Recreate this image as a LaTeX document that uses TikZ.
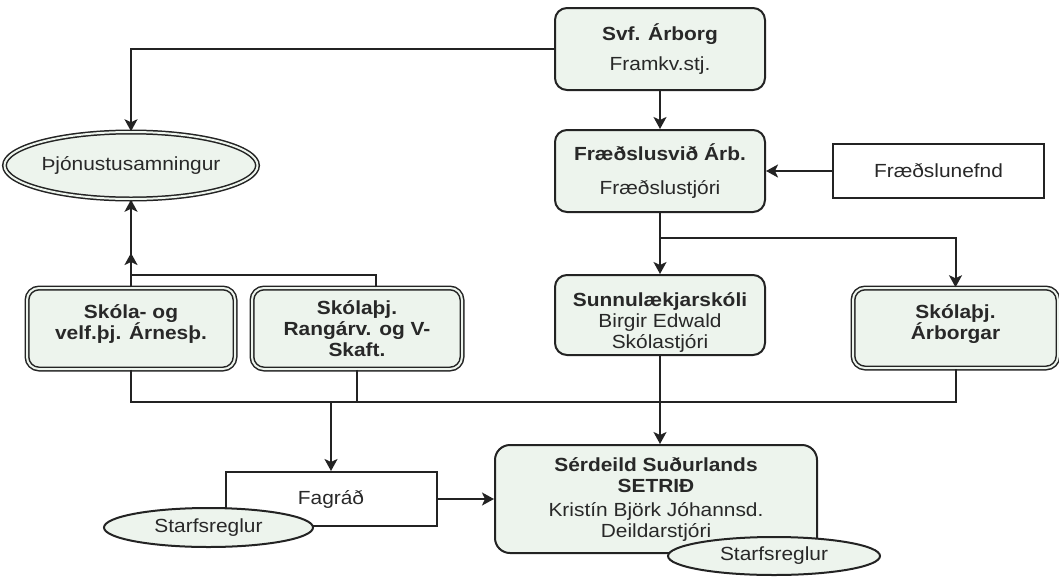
\documentclass[tikz,border=0pt]{standalone}
\usepackage{fontspec}
\setmainfont{Liberation Sans}[FakeStretch=1.1]
\usepackage{xcolor}
\usepackage{tikz}
\usetikzlibrary{arrows.meta,shapes.geometric}
\definecolor{orgfill}{RGB}{237,244,237}
\definecolor{orgline}{RGB}{35,35,35}
\definecolor{orgtext}{RGB}{40,40,40}

\begin{document}
\begin{tikzpicture}[x=1pt, y=-1pt,
    font=\fontsize{19}{21}\selectfont, text=orgtext,
    box/.style={draw=orgline, fill=orgfill, rounded corners=12pt, line width=2pt,
      align=center, inner sep=2pt, minimum width=210pt, minimum height=82pt},
    dbox/.style={box, line width=1.5pt, double=orgfill, double distance=2pt},
    plainbox/.style={draw=orgline, fill=white, line width=2pt, align=center,
      minimum width=211pt, minimum height=54pt},
    oval/.style={ellipse, draw=orgline, fill=orgfill, line width=2pt, inner sep=0pt},
    arrow/.style={-{Stealth[length=12pt, width=13pt, inset=3pt]}, draw=orgline, line width=2pt}
  ]
    \useasboundingbox (0,0) rectangle (1059,576);
    \node[box] (svf) at (660,49) {\textbf{Svf. Árborg}\\[9pt]Framkv.stj.};
    \node[box] (fraedsla) at (660,171) {\textbf{Fræðslusvið Árb.}\\[13pt]Fræðslustjóri};
    \node[plainbox] (nefnd) at (938.5,171) {Fræðslunefnd};
    \node[oval, double=orgfill, double distance=2pt, line width=1.5pt,
      minimum width=244pt, minimum height=67pt] (thjon) at (131,165.5) {Þjónustusamningur};
    \node[dbox, minimum width=208pt, minimum height=81pt] (skola) at (131,328.5)
      {\textbf{Skóla- og}\\\textbf{velf.þj. Árnesþ.}\\[-9pt]};
    \node[dbox, minimum height=81pt] (rang) at (357,328.5)
      {\textbf{Skólaþj.}\\\textbf{Rangárv. og V-}\\\textbf{Skaft.}};
    \node[box, minimum height=80pt] (sunnu) at (660,315)
      {\mbox{}\\[7pt]\textbf{Sunnulækjarskóli}\\Birgir Edwald\\Skólastjóri};
    \node[dbox, minimum width=205pt, minimum height=80pt] (arborg) at (955.5,328)
      {\textbf{Skólaþj.}\\\textbf{Árborgar}\\[-9pt]};
    \node[plainbox] (fagrad) at (331,499) {Fagráð};
    \node[box, rounded corners=15pt, minimum width=322pt, minimum height=108pt] (setrid) at (656,499)
      {\textbf{Sérdeild Suðurlands}\\\textbf{SETRIÐ}\\[3pt]Kristín Björk Jóhannsd.\\Deildarstjóri};
    \node[oval, minimum width=209pt, minimum height=39pt] (reglaA) at (208.5,527.5) {Starfsreglur};
    \node[oval, minimum width=212pt, minimum height=38pt] (reglaB) at (774,556) {Starfsreglur};
    \coordinate (fork) at (660,238);
    \coordinate (join) at (131,275);
    \coordinate (jointip) at (131,253);
    \coordinate (bar) at (131,402);
    \draw[arrow] (svf.west) -| (thjon.north);
    \draw[arrow] (svf) -- (fraedsla);
    \draw[arrow] (nefnd) -- (fraedsla);
    \draw[arrow] (fraedsla) -- (sunnu);
    \draw[arrow] (fork) -| (arborg.north);
    \draw[arrow] (skola) -- (thjon);
    \draw[arrow] ([xshift=19pt]rang.north) |- (join) -- (jointip);
    \draw[line width=2pt, draw=orgline] (skola.south) -- (skola.south |- bar) -- (arborg.south |- bar) -- (arborg.south);
    \draw[line width=2pt, draw=orgline] (rang.south) -- (rang.south |- bar);
    \draw[arrow] (fagrad.north |- bar) -- (fagrad.north);
    \draw[arrow] (sunnu.south) -- (sunnu.south |- setrid.north);
    \draw[arrow] (fagrad) -- (setrid);
  \end{tikzpicture}
\end{document}
